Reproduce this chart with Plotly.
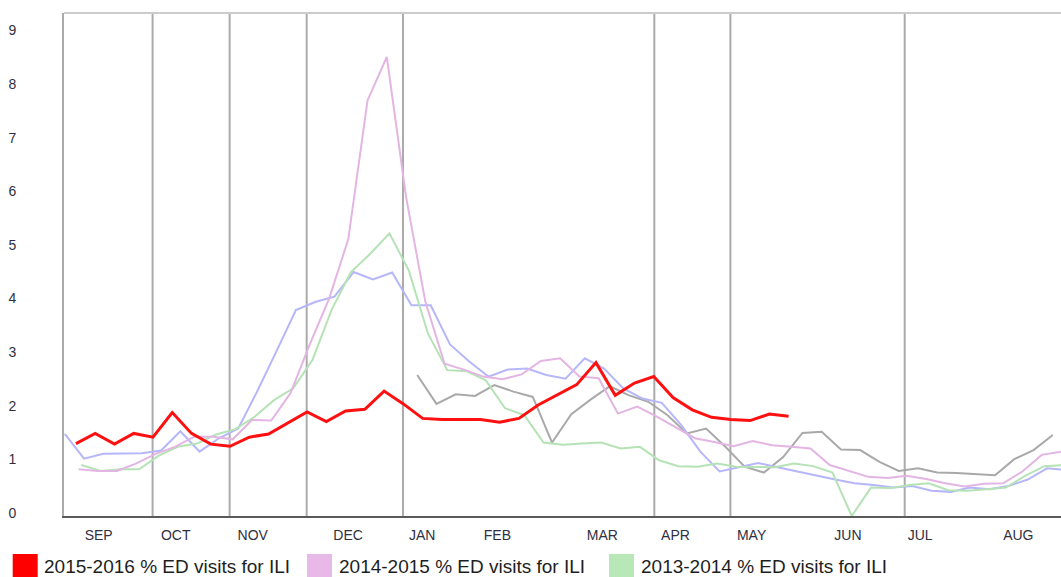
import plotly.graph_objects as go

# ---- data -------------------------------------------------------------
months = ["SEP", "OCT", "NOV", "DEC", "JAN", "FEB", "MAR", "APR", "MAY", "JUN", "JUL", "AUG"]
month_label_week = [1.8, 5.8, 9.8, 14.75, 18.6, 22.5, 27.95, 31.75, 35.7, 40.7, 44.45, 49.55]
month_divider_week = [4.6, 8.6, 12.6, 17.6, 30.65, 34.6, 43.65]

# week (in axis units) of each season's first plotted point
first_week_2015_16 = 0.62
first_week_2014_15 = 0.76
first_week_2013_14 = 0.90
first_week_2012_13 = 0.04
first_week_2011_12 = 18.34

ili_2015_16 = [1.35, 1.54, 1.34, 1.54, 1.47, 1.93, 1.54, 1.34, 1.30, 1.47, 1.53, 1.74, 1.94,
               1.76, 1.96, 1.99, 2.33, 2.09, 1.82, 1.80, 1.80, 1.80, 1.75, 1.82, 2.07, 2.26,
               2.45, 2.86, 2.25, 2.48, 2.60, 2.21, 1.98, 1.84, 1.80, 1.78, 1.90, 1.86]
ili_2014_15 = [0.87, 0.84, 0.84, 0.98, 1.16, 1.29, 1.48, 1.48, 1.43, 1.79, 1.78, 2.29, 3.20,
               4.05, 5.16, 7.75, 8.56, 5.95, 4.00, 2.84, 2.73, 2.60, 2.55, 2.64, 2.89, 2.94,
               2.60, 2.57, 1.91, 2.04, 1.86, 1.66, 1.45, 1.38, 1.30, 1.40, 1.32, 1.29, 1.26,
               0.95, 0.84, 0.73, 0.71, 0.75, 0.69, 0.61, 0.55, 0.60, 0.61, 0.83, 1.14, 1.20]
ili_2013_14 = [0.95, 0.84, 0.87, 0.87, 1.12, 1.29, 1.35, 1.52, 1.62, 1.85, 2.16, 2.38, 2.91,
               3.85, 4.55, 4.89, 5.27, 4.58, 3.40, 2.72, 2.70, 2.53, 2.01, 1.88, 1.37, 1.33,
               1.35, 1.37, 1.26, 1.29, 1.04, 0.93, 0.92, 0.98, 0.92, 0.92, 0.91, 0.98, 0.93,
               0.81, 0.00, 0.53, 0.52, 0.58, 0.61, 0.48, 0.47, 0.50, 0.53, 0.75, 0.93, 0.95]
ili_2012_13 = [1.53, 1.07, 1.16, 1.16, 1.17, 1.22, 1.58, 1.20, 1.45, 1.63, 2.33, 3.08, 3.84,
               3.99, 4.09, 4.55, 4.41, 4.54, 3.93, 3.93, 3.20, 2.88, 2.60, 2.73, 2.75, 2.63,
               2.56, 2.94, 2.75, 2.38, 2.19, 2.11, 1.70, 1.20, 0.83, 0.91, 0.99, 0.91, 0.83,
               0.76, 0.68, 0.61, 0.58, 0.53, 0.56, 0.47, 0.45, 0.53, 0.50, 0.56, 0.68, 0.89, 0.86]
ili_2011_12 = [2.63, 2.09, 2.27, 2.24, 2.44, 2.32, 2.22, 1.37, 1.90, 2.17, 2.42, 2.25, 2.13,
               1.88, 1.54, 1.63, 1.29, 0.92, 0.81, 1.10, 1.55, 1.57, 1.24, 1.23, 1.01, 0.84,
               0.89, 0.81, 0.80, 0.78, 0.76, 1.06, 1.23, 1.51]

y_ticks = list(range(0, 10))

# ---- figure -------------------------------------------------------------
W, H = 1061, 577
L, R, T, B = 64, 0, 13, 61
PW, PH = W - L - R, H - T - B
WEEK_PX = 19.26


def px_x(px):
    return (px - L) / PW


def px_y(py):
    return (H - B - py) / PH


def weeks(first, values):
    return [first + i for i in range(len(values))]


series = [
    ("2011-2012 % ED visits for ILI", first_week_2011_12, ili_2011_12, "#a9a9a9", 2),
    ("2012-2013 % ED visits for ILI", first_week_2012_13, ili_2012_13, "#b6b6fb", 2),
    ("2013-2014 % ED visits for ILI", first_week_2013_14, ili_2013_14, "#b5e3b5", 2),
    ("2014-2015 % ED visits for ILI", first_week_2014_15, ili_2014_15, "#e3b5e3", 2),
    ("2015-2016 % ED visits for ILI", first_week_2015_16, ili_2015_16, "#ff1010", 3),
]

fig = go.Figure()
for name, first, vals, color, width in series:
    fig.add_trace(go.Scatter(
        x=weeks(first, vals), y=vals, mode="lines", name=name,
        line=dict(color=color, width=width), showlegend=False,
    ))

shapes = []
for wk in month_divider_week:
    shapes.append(dict(type="line", xref="x", yref="paper", x0=wk, x1=wk, y0=0, y1=1,
                       line=dict(color="#ababab", width=2), layer="below"))

# manual legend with square swatches
legend_items = [
    ("2015-2016 % ED visits for ILI", "#ff0000", 12.7, 42),
    ("2014-2015 % ED visits for ILI", "#e8b8e8", 307, 337),
    ("2013-2014 % ED visits for ILI", "#b8e8b8", 609, 639),
]
annotations = []
for label, color, sx, tx in legend_items:
    shapes.append(dict(type="rect", xref="paper", yref="paper",
                       x0=px_x(sx), x1=px_x(sx + 25), y0=px_y(554), y1=px_y(580),
                       fillcolor=color, line=dict(width=0)))
    annotations.append(dict(xref="paper", yref="paper", x=px_x(tx), y=px_y(566),
                            xanchor="left", yanchor="middle", showarrow=False, text=label,
                            font=dict(family="Arial, Liberation Sans, sans-serif", size=19,
                                      color="#1e1e1e")))

# top border
shapes.append(dict(type="line", xref="paper", yref="paper", x0=0, x1=1, y0=1, y1=1,
                   line=dict(color="#cccccc", width=2)))

x_max = PW / WEEK_PX

fig.update_layout(
    width=W, height=H, autosize=False,
    margin=dict(l=L, r=R, t=T, b=B, pad=0),
    paper_bgcolor="white", plot_bgcolor="white",
    showlegend=False,
    shapes=shapes, annotations=annotations,
    font=dict(family="Arial, Liberation Sans, sans-serif", size=14, color="#333333"),
    xaxis=dict(range=[0, x_max], tickmode="array", tickvals=month_label_week, ticktext=months,
               showgrid=False, zeroline=False, showline=True, linecolor="#5a5a5a", linewidth=2,
               mirror=False, ticks="", ticklabelstandoff=5,
               tickfont=dict(size=14, color="#30303f")),
    yaxis=dict(range=[0, 9.38], tickmode="array", tickvals=y_ticks,
               showgrid=False, zeroline=False, showline=True, linecolor="#ababab", linewidth=2,
               ticks="", ticklabelstandoff=43, ticklabelshift=-3,
               tickfont=dict(size=14, color="#30303f")),
)

fig.write_html("out.html", config={"displayModeBar": False},
               post_script="document.body.style.margin='0';")
